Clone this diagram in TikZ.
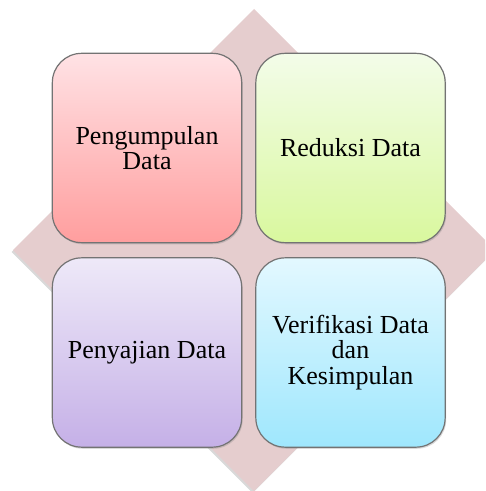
\documentclass[tikz,border=0pt]{standalone}
\usepackage{fontspec}
\setmainfont{Liberation Serif}
\usetikzlibrary{shadows,positioning}
\definecolor{belah}{HTML}{E5CDCE}
\definecolor{merahA}{HTML}{FFE2E5}
\definecolor{merahB}{HTML}{FF9E9E}
\definecolor{hijauA}{HTML}{F3FCE9}
\definecolor{hijauB}{HTML}{D9F89E}
\definecolor{unguA}{HTML}{EEE9F8}
\definecolor{unguB}{HTML}{C5B0E7}
\definecolor{biruA}{HTML}{E3F8FF}
\definecolor{biruB}{HTML}{9FE7FD}

\begin{document}
\begin{tikzpicture}[x=0.75pt,y=-0.75pt,
  kotak/.style={draw=black!55, line width=0.9pt, rounded corners=22pt,
    minimum width=142pt, minimum height=142pt, align=center,
    font=\fontsize{19.5}{19}\selectfont,
    drop shadow={opacity=0.3, shadow xshift=0.8pt, shadow yshift=-1.2pt}}]
\useasboundingbox (0,0) rectangle (485,491);
\coordinate (T) at (254,9);
\coordinate (R) at (495,250);
\coordinate (B) at (254,491);
\coordinate (L) at (13,250);
\begin{scope}
\clip (0,0) rectangle (485,491);
\fill[belah, drop shadow={opacity=0.3, shadow xshift=-1pt, shadow yshift=-1.5pt}] (T) -- (R) -- (B) -- (L) -- cycle;
\end{scope}
\node[kotak, top color=merahA, bottom color=merahB] (kumpul) at (147,148) {Pengumpulan\\Data};
\node[kotak, top color=hijauA, bottom color=hijauB] (reduksi) at (350.5,148) {Reduksi Data};
\node[kotak, top color=unguA, bottom color=unguB] (saji) at (147,352.5) {Penyajian Data};
\node[kotak, top color=biruA, bottom color=biruB] (verif) at (350.5,352.5) {Verifikasi Data\\dan\\Kesimpulan};
\end{tikzpicture}
\end{document}
